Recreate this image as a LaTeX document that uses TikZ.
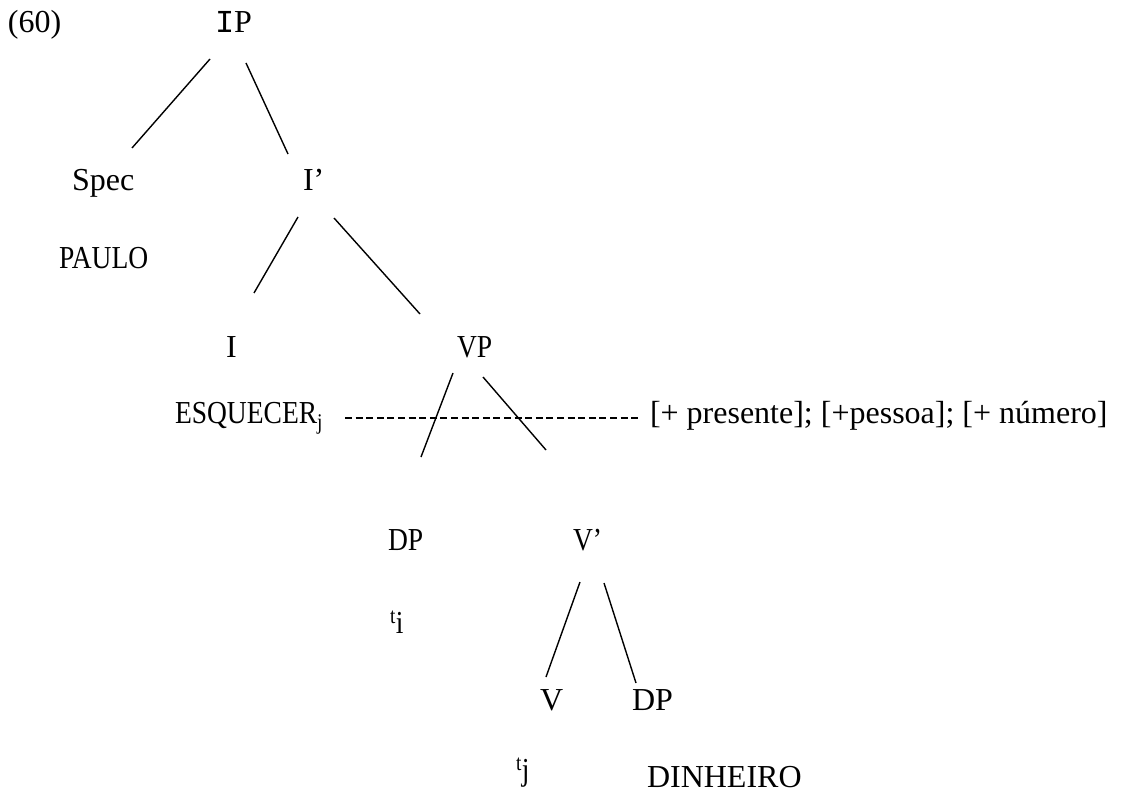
\documentclass[tikz,border=0pt]{standalone}
\usepackage{fontspec}
\setmainfont{Liberation Serif}
\newfontfamily\monofam{Liberation Mono}
\newfontfamily\narrowfam{Liberation Serif}[FakeStretch=0.86]
\begin{document}
\begin{tikzpicture}[x=1pt,y=-1pt,
  lbl/.style={anchor=base west,inner sep=0pt,outer sep=0pt,font=\fontsize{32}{38}\selectfont},
  lbls/.style={anchor=base west,inner sep=0pt,outer sep=0pt,font=\fontsize{32}{38}\selectfont\narrowfam},
  branch/.style={line width=1.4pt},
  featline/.style={line width=1.8pt,dash pattern=on 7pt off 3.6pt}]
\useasboundingbox (0,0) rectangle (1142,794);
% labels
\node[lbl] (ex) at (8,33) {(60)};
\node[lbl] (IP) at (215,33) {{\monofam I}P};
\node[lbl] (Spec) at (72,191) {Spec};
\node[lbl] (Ibar) at (303,191) {I’};
\node[lbls] (paulo) at (59,269) {PAULO};
\node[lbl] (I) at (226,357) {I};
\node[lbls] (VP) at (457,357) {VP};
\node[lbls] (esq) at (175,423) {ESQUECER\textsubscript{j}};
\node[lbl] (feat) at (650,423) {[+ presente]; [+pessoa]; [+ número]};
\node[lbls] (DPa) at (388,550) {DP};
\node[lbls] (Vbar) at (573,550) {V’};
\node[lbls] (ti) at (390,633) {\textsuperscript{t}i};
\node[lbl] (V) at (540,710) {V};
\node[lbl] (DPb) at (632,710) {DP};
\node[lbls] (tj) at (516,780) {\textsuperscript{t}j};
\node[lbl] (din) at (647,787) {DINHEIRO};
% branch end points
\coordinate (ipL1) at (210,59);  \coordinate (ipL2) at (132,148);
\coordinate (ipR1) at (246,63);  \coordinate (ipR2) at (288,154);
\coordinate (ibL1) at (298,217); \coordinate (ibL2) at (254,293);
\coordinate (ibR1) at (334,218); \coordinate (ibR2) at (420,314);
\coordinate (vpL1) at (453,373); \coordinate (vpL2) at (421,457);
\coordinate (vpR1) at (483,377); \coordinate (vpR2) at (546,450);
\coordinate (vbL1) at (580,582); \coordinate (vbL2) at (546,677);
\coordinate (vbR1) at (604,583); \coordinate (vbR2) at (636,683);
\coordinate (dashA) at (345,418); \coordinate (dashB) at (640,418);
\draw[branch] (ipL1) -- (ipL2);
\draw[branch] (ipR1) -- (ipR2);
\draw[branch] (ibL1) -- (ibL2);
\draw[branch] (ibR1) -- (ibR2);
\draw[branch] (vpL1) -- (vpL2);
\draw[branch] (vpR1) -- (vpR2);
\draw[branch] (vbL1) -- (vbL2);
\draw[branch] (vbR1) -- (vbR2);
\draw[featline] (dashA) -- (dashB);
\end{tikzpicture}
\end{document}
